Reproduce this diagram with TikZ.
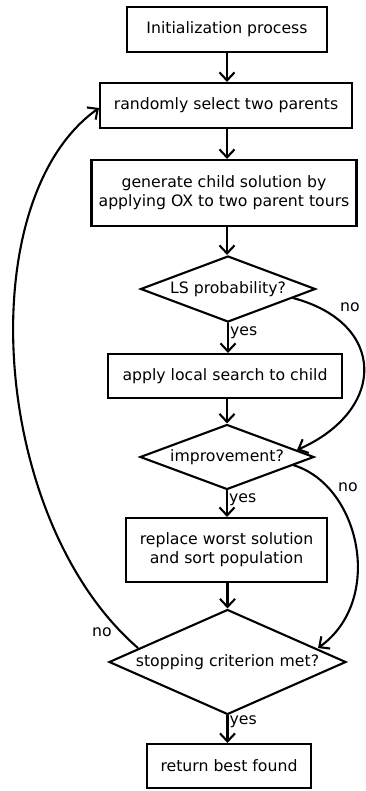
\documentclass[tikz,border=0pt]{standalone}
\usepackage{fontspec}
\setmainfont{DejaVu Sans}
\usetikzlibrary{shapes.geometric,arrows.meta}
\begin{document}
\begin{tikzpicture}[x=1pt,y=-1pt,
  every node/.style={font=\fontsize{15.7}{19}\selectfont, inner sep=0pt, align=center},
  procbox/.style={draw, line width=2.1pt, rectangle},
  decision/.style={draw, line width=2.1pt, diamond},
  flow/.style={line width=2.1pt, line cap=round,
    -{Straight Barb[length=8pt,width=15pt,line width=2.1pt]}},
  lbl/.style={font=\fontsize{15.7}{19}\selectfont}]
\useasboundingbox (0,0) rectangle (365,791);

% process boxes and decisions
\node[procbox, minimum width=200, minimum height=45] (init) at (227,29.5) {Initialization process};
\node[procbox, minimum width=252, minimum height=45] (select) at (226,105.5) {randomly select two parents};
\node[procbox, minimum width=265, minimum height=66] (gen) at (224,193) {generate child solution by\\applying OX to two parent tours};
\node[decision, aspect=2.65, minimum width=175, minimum height=66] (lsprob) at (228,289) {LS probability?};
\node[procbox, minimum width=234, minimum height=44] (ls) at (225,376) {apply local search to child};
\node[decision, aspect=2.68, minimum width=174, minimum height=65] (imp) at (227,457) {improvement?};
\node[procbox, minimum width=201, minimum height=64] (repl) at (226.5,550) {replace worst solution\\and sort population};
\node[decision, aspect=2.26, minimum width=237, minimum height=105] (stop) at (227.5,662) {stopping criterion met?};
\node[procbox, minimum width=164, minimum height=44] (ret) at (229,766) {return best found};

% straight flow
\draw[flow] (init.south) -- (init.south |- select.north);
\draw[flow] (select.south -| init.south) -- (init.south |- gen.north);
\draw[flow] (gen.south -| init.south) -- (lsprob.north -| init.south);
\draw[flow] (lsprob.south) -- (lsprob.south |- ls.north)
  node[lbl, pos=0.33, anchor=west, xshift=1pt] {yes};
\draw[flow] (ls.south -| imp.north) -- (imp.north);
\draw[flow] (imp.south) -- (imp.south |- repl.north)
  node[lbl, pos=0.33, anchor=west, xshift=1pt] {yes};
\draw[flow] (repl.south -| stop.north) -- (stop.north);
\draw[flow] (stop.south) -- (stop.south |- ret.north)
  node[lbl, pos=0.22, anchor=west, xshift=1pt] {yes};

% branches
\coordinate (lsno) at (293,298);
\coordinate (impin) at (297,450);
\coordinate (impno) at (293,465);
\coordinate (stopin) at (318,648);
\coordinate (stopno) at (138,648);
\coordinate (selin) at (99,108);

\draw[flow] (lsno) .. controls (387,323) and (387,410) .. (impin);
\node[lbl] (nolabA) at (350,307) {no};
\draw[flow] (impno) .. controls (360,485) and (385,600) .. (stopin);
\node[lbl] (nolabB) at (348,487) {no};
\draw[flow] (stopno) .. controls (-10,520) and (-30,200) .. (selin);
\node[lbl] (nolabC) at (102,632) {no};
\end{tikzpicture}
\end{document}
